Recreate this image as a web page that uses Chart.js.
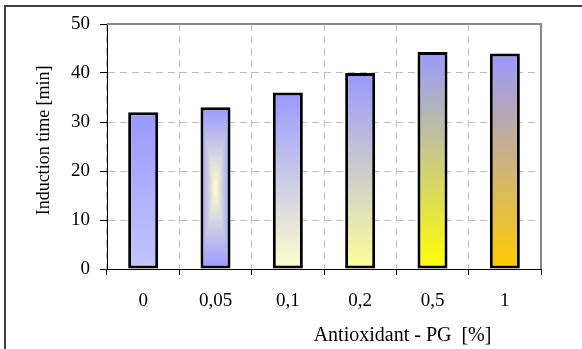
<!DOCTYPE html>
<html>
<head>
<meta charset="utf-8">
<script src="https://cdn.jsdelivr.net/npm/chart.js@4.4.0/dist/chart.umd.min.js"></script>
<style>
  body { margin: 0; background: #fff; }
  canvas { display: block; }
</style>
</head>
<body>
<canvas id="barChart" width="582" height="349"></canvas>
<script>
// induction time vs. PG antioxidant dose
var categories = ["0", "0,05", "0,1", "0,2", "0,5", "1"];
var inductionTime = [32, 33, 36, 40, 44.3, 44];
var yTicks = [0, 10, 20, 30, 40, 50];

var topColor = '#9999ff';
var bottomColors = ['#c4c4ff', 'center', '#ffffcc', '#ffff99', '#ffff00', '#ffcc00'];
var serif = '"Liberation Serif", "Times New Roman", serif';
var barFrac = 0.415;

function barRect(chart, i) {
  var x = chart.scales.x, y = chart.scales.y;
  var w = x.width / categories.length * barFrac;
  var cx = x.getPixelForValue(i);
  return { left: cx - w / 2, right: cx + w / 2, top: y.getPixelForValue(inductionTime[i]), bottom: y.getPixelForValue(0) };
}

function hexRgb(h) {
  return [parseInt(h.substr(1, 2), 16), parseInt(h.substr(3, 2), 16), parseInt(h.substr(5, 2), 16)];
}

// "from centre" fill: pale yellow in the middle fading to blue at every edge
var fillCache = {};
function centerFill(chart, r) {
  var key = [r.left, r.right, r.top, r.bottom].join('|');
  if (fillCache[key]) return fillCache[key];
  var off = document.createElement('canvas');
  off.width = chart.width; off.height = chart.height;
  var c = off.getContext('2d');
  var x0 = Math.floor(r.left), x1 = Math.ceil(r.right);
  var y0 = Math.floor(r.top), y1 = Math.ceil(r.bottom);
  var img = c.createImageData(x1 - x0, y1 - y0);
  var mx = (r.left + r.right) / 2, my = (r.top + r.bottom) / 2;
  var hw = (r.right - r.left) / 2, hh = (r.bottom - r.top) / 2;
  var a = hexRgb('#ffffcc'), b = hexRgb(topColor);
  var k = 0;
  for (var py = y0; py < y1; py++) {
    for (var px = x0; px < x1; px++) {
      var t = Math.min(1, Math.max(Math.abs(px + 0.5 - mx) / hw, Math.abs(py + 0.5 - my) / hh));
      for (var ch = 0; ch < 3; ch++) img.data[k + ch] = Math.round(a[ch] + (b[ch] - a[ch]) * t);
      img.data[k + 3] = 255;
      k += 4;
    }
  }
  c.putImageData(img, x0, y0);
  fillCache[key] = chart.ctx.createPattern(off, 'no-repeat');
  return fillCache[key];
}

function barFill(ctx) {
  var chart = ctx.chart;
  if (!chart.chartArea || ctx.type !== 'data') return topColor;
  var i = ctx.dataIndex;
  var r = barRect(chart, i);
  if (bottomColors[i] === 'center') return centerFill(chart, r);
  var g = chart.ctx.createLinearGradient(0, r.top, 0, r.bottom);
  g.addColorStop(0, topColor);
  g.addColorStop(1, bottomColors[i]);
  return g;
}

var decor = {
  id: 'decor',
  beforeDraw: function (chart) {
    var c = chart.ctx;
    c.save();
    c.strokeStyle = '#404040';
    c.lineWidth = 2;
    c.beginPath();
    c.moveTo(5, chart.height + 2);
    c.lineTo(5, 6);
    c.lineTo(chart.width + 2, 6);
    c.stroke();
    c.restore();
  },
  afterDraw: function (chart) {
    var c = chart.ctx, a = chart.chartArea;
    c.save();
    // grey frame on the open sides of the plot area
    c.strokeStyle = '#888888';
    c.lineWidth = 2;
    c.beginPath();
    c.moveTo(a.left, a.top);
    c.lineTo(a.right, a.top);
    c.lineTo(a.right, a.bottom);
    c.stroke();
    // axis titles
    c.fillStyle = '#000';
    c.textAlign = 'center';
    c.textBaseline = 'middle';
    c.font = '20px ' + serif;
    c.fillText('Antioxidant - PG  [%]', a.left + (a.right - a.left) * 0.681, 336);
    c.font = '18px ' + serif;
    c.translate(44, a.top + (a.bottom - a.top) * 0.475);
    c.rotate(-Math.PI / 2);
    c.fillText('Induction time [min]', 0, 0);
    c.restore();
  }
};

var ctxB = document.getElementById('barChart').getContext('2d');
var myBarChart = new Chart(ctxB, {
  type: 'bar',
  data: {
    labels: categories,
    datasets: [{
      label: 'Induction time',
      data: inductionTime,
      backgroundColor: barFill,
      borderColor: '#000000',
      borderWidth: 3,
      borderSkipped: false,
      categoryPercentage: 1,
      barPercentage: barFrac
    }]
  },
  options: {
    responsive: false,
    animation: false,
    layout: { padding: { left: 0, top: 24, right: 41, bottom: 0 } },
    plugins: { legend: { display: false }, tooltip: { enabled: false } },
    scales: {
      x: {
        afterFit: function (s) { s.height = 80; },
        grid: { color: '#c0c0c0', tickColor: '#000', tickLength: 6, offset: true },
        border: { color: '#000', width: 1, dash: [7, 5] },
        ticks: { color: '#000', padding: 15, font: { family: serif, size: 19 } }
      },
      y: {
        min: yTicks[0],
        max: yTicks[yTicks.length - 1],
        afterFit: function (s) { s.width = 107; },
        afterBuildTicks: function (s) { s.ticks = yTicks.map(function (v) { return { value: v }; }); },
        grid: { color: '#c0c0c0', tickColor: '#000', tickLength: 7 },
        border: { color: '#000', width: 1, dash: [7, 5] },
        ticks: { color: '#000', padding: 10, font: { family: serif, size: 19 } }
      }
    }
  },
  plugins: [decor]
});
</script>
</body>
</html>
